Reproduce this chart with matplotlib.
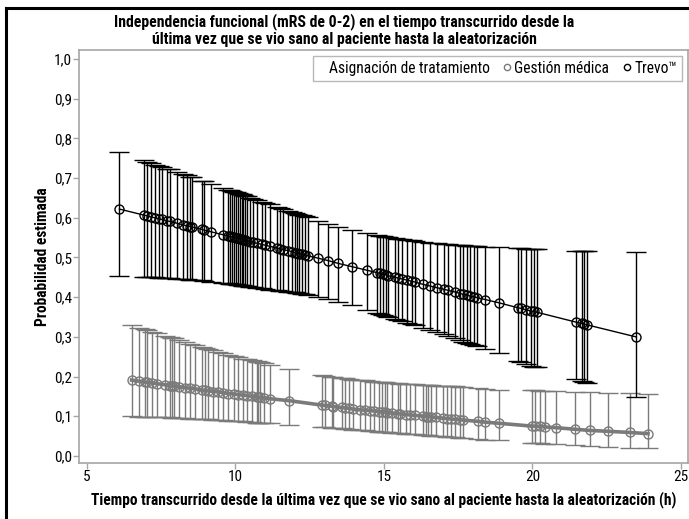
import numpy as np
import matplotlib.pyplot as plt
from matplotlib.lines import Line2D

plt.rcParams['font.family'] = ['Roboto Condensed', 'DejaVu Sans']

# Trevo arm: hours since last seen well, estimated probability and 95% CI
trevo_x = [6.10, 6.91, 7.04, 7.16, 7.31, 7.43, 7.52, 7.71, 7.80, 8.05, 8.25, 8.37, 8.48, 8.53,
           8.87, 8.95, 9.17, 9.60, 9.75, 9.82, 9.88, 9.94, 10.02, 10.08, 10.16, 10.22, 10.27,
           10.34, 10.41, 10.50, 10.61, 10.72, 10.89, 11.00, 11.17, 11.40, 11.51, 11.60, 11.79,
           11.90, 12.01, 12.09, 12.16, 12.24, 12.35, 12.46, 12.80, 13.13, 13.47, 13.92, 14.42,
           14.76, 14.87, 14.96, 15.08, 15.15, 15.38, 15.49, 15.60, 15.77, 15.94, 16.05, 16.33,
           16.56, 16.78, 17.01, 17.17, 17.40, 17.57, 17.68, 17.79, 17.90, 18.02, 18.13, 18.41,
           18.86, 19.53, 19.61, 19.79, 19.95, 20.04, 20.15, 21.47, 21.66, 21.74, 21.85, 23.48]
trevo_p = [0.622, 0.607, 0.605, 0.602, 0.600, 0.597, 0.596, 0.592, 0.591, 0.586, 0.582, 0.580,
           0.578, 0.577, 0.571, 0.569, 0.565, 0.557, 0.554, 0.553, 0.552, 0.551, 0.549, 0.548,
           0.547, 0.546, 0.545, 0.543, 0.542, 0.540, 0.538, 0.536, 0.533, 0.531, 0.528, 0.524,
           0.522, 0.520, 0.517, 0.515, 0.512, 0.511, 0.510, 0.508, 0.506, 0.504, 0.498, 0.492,
           0.485, 0.477, 0.468, 0.462, 0.460, 0.458, 0.456, 0.454, 0.450, 0.448, 0.446, 0.443,
           0.440, 0.438, 0.432, 0.428, 0.424, 0.420, 0.417, 0.413, 0.409, 0.407, 0.405, 0.403,
           0.401, 0.399, 0.394, 0.386, 0.373, 0.372, 0.368, 0.365, 0.364, 0.362, 0.337, 0.334,
           0.332, 0.330, 0.300]
trevo_hi = [0.766, 0.745, 0.741, 0.738, 0.734, 0.731, 0.729, 0.724, 0.722, 0.715, 0.710, 0.707,
            0.704, 0.703, 0.694, 0.692, 0.686, 0.675, 0.671, 0.669, 0.668, 0.666, 0.664, 0.662,
            0.660, 0.659, 0.657, 0.655, 0.654, 0.651, 0.648, 0.646, 0.641, 0.638, 0.634, 0.628,
            0.625, 0.623, 0.618, 0.615, 0.612, 0.610, 0.608, 0.606, 0.604, 0.601, 0.593, 0.585,
            0.578, 0.570, 0.562, 0.557, 0.555, 0.554, 0.552, 0.551, 0.549, 0.547, 0.546, 0.545,
            0.543, 0.542, 0.539, 0.537, 0.536, 0.534, 0.533, 0.532, 0.531, 0.531, 0.530, 0.530,
            0.529, 0.529, 0.527, 0.526, 0.523, 0.523, 0.522, 0.521, 0.521, 0.521, 0.517, 0.516,
            0.516, 0.516, 0.513]
trevo_lo = [0.453, 0.451, 0.451, 0.450, 0.450, 0.449, 0.449, 0.448, 0.448, 0.447, 0.446, 0.445,
            0.444, 0.444, 0.442, 0.441, 0.439, 0.436, 0.435, 0.434, 0.433, 0.433, 0.432, 0.431,
            0.430, 0.430, 0.429, 0.428, 0.427, 0.426, 0.425, 0.424, 0.422, 0.421, 0.419, 0.417,
            0.416, 0.415, 0.414, 0.413, 0.412, 0.411, 0.410, 0.408, 0.407, 0.405, 0.400, 0.395,
            0.388, 0.380, 0.368, 0.360, 0.357, 0.355, 0.352, 0.350, 0.345, 0.343, 0.340, 0.336,
            0.332, 0.330, 0.323, 0.318, 0.312, 0.307, 0.302, 0.296, 0.291, 0.288, 0.285, 0.283,
            0.280, 0.277, 0.269, 0.258, 0.240, 0.237, 0.232, 0.227, 0.225, 0.223, 0.193, 0.188,
            0.187, 0.184, 0.149]

# medical management arm
med_x = [6.51, 6.77, 6.96, 7.04, 7.19, 7.35, 7.64, 7.80, 7.86, 7.92, 8.12, 8.31, 8.48, 8.65,
         8.87, 8.98, 9.09, 9.26, 9.43, 9.60, 9.77, 9.94, 10.10, 10.27, 10.38, 10.55, 10.72,
         10.78, 10.83, 10.95, 11.17, 11.82, 12.91, 13.02, 13.25, 13.30, 13.58, 13.70, 13.81,
         13.95, 14.20, 14.37, 14.54, 14.67, 14.85, 14.93, 15.04, 15.12, 15.27, 15.49, 15.55,
         15.75, 15.88, 16.05, 16.33, 16.42, 16.50, 16.58, 16.76, 16.98, 17.12, 17.25, 17.40,
         17.57, 17.68, 18.18, 18.41, 18.89, 19.98, 20.09, 20.24, 20.43, 20.80, 21.44, 21.94,
         22.53, 23.27, 23.89]
med_p = [0.191, 0.188, 0.186, 0.185, 0.184, 0.182, 0.179, 0.177, 0.176, 0.176, 0.174, 0.172,
         0.170, 0.169, 0.166, 0.165, 0.164, 0.162, 0.161, 0.159, 0.157, 0.156, 0.154, 0.153,
         0.152, 0.150, 0.149, 0.148, 0.148, 0.146, 0.144, 0.139, 0.128, 0.127, 0.125, 0.124,
         0.122, 0.121, 0.120, 0.118, 0.116, 0.115, 0.114, 0.113, 0.111, 0.111, 0.110, 0.109,
         0.108, 0.106, 0.106, 0.104, 0.103, 0.102, 0.100, 0.099, 0.099, 0.098, 0.097, 0.095,
         0.094, 0.093, 0.092, 0.091, 0.090, 0.087, 0.085, 0.082, 0.075, 0.075, 0.074, 0.073,
         0.071, 0.067, 0.064, 0.062, 0.059, 0.056]
med_hi = [0.329, 0.323, 0.319, 0.317, 0.313, 0.310, 0.303, 0.299, 0.297, 0.296, 0.291, 0.287,
          0.283, 0.280, 0.275, 0.272, 0.270, 0.266, 0.262, 0.259, 0.255, 0.251, 0.248, 0.245,
          0.244, 0.241, 0.238, 0.237, 0.236, 0.234, 0.230, 0.220, 0.203, 0.202, 0.200, 0.199,
          0.196, 0.195, 0.194, 0.192, 0.191, 0.190, 0.188, 0.187, 0.186, 0.185, 0.185, 0.184,
          0.184, 0.183, 0.182, 0.181, 0.181, 0.180, 0.179, 0.179, 0.178, 0.178, 0.177, 0.177,
          0.176, 0.176, 0.175, 0.174, 0.174, 0.170, 0.169, 0.167, 0.165, 0.165, 0.164, 0.164,
          0.163, 0.161, 0.160, 0.159, 0.158, 0.157]
med_lo = [0.100, 0.099, 0.099, 0.099, 0.098, 0.098, 0.097, 0.097, 0.096, 0.096, 0.095, 0.095,
          0.094, 0.093, 0.093, 0.092, 0.092, 0.091, 0.090, 0.090, 0.089, 0.088, 0.088, 0.087,
          0.086, 0.085, 0.084, 0.084, 0.084, 0.083, 0.082, 0.079, 0.073, 0.072, 0.071, 0.070,
          0.069, 0.068, 0.067, 0.066, 0.065, 0.064, 0.063, 0.062, 0.061, 0.060, 0.060, 0.059,
          0.058, 0.057, 0.057, 0.056, 0.055, 0.054, 0.052, 0.052, 0.052, 0.051, 0.050, 0.049,
          0.048, 0.048, 0.047, 0.046, 0.045, 0.042, 0.041, 0.039, 0.033, 0.033, 0.032, 0.031,
          0.029, 0.027, 0.025, 0.023, 0.021, 0.019]

x_ticks = [5, 10, 15, 20, 25]
y_ticks = [0.0, 0.1, 0.2, 0.3, 0.4, 0.5, 0.6, 0.7, 0.8, 0.9, 1.0]

gray = '#7a7a7a'
axis_gray = '#a6a6a6'

fig = plt.figure(figsize=(6.89, 5.19), dpi=100)
ax = fig.add_axes([0.1147, 0.1079, 0.884, 0.7958])

mp = np.array(med_p)
ax.errorbar(med_x, mp, yerr=[mp - np.array(med_lo), np.array(med_hi) - mp],
            fmt='-o', color=gray, lw=2.6, elinewidth=1.0, capsize=7, capthick=1.0,
            ms=6.5, mfc='none', mec=gray, mew=1.0)

tp = np.array(trevo_p)
ax.errorbar(trevo_x, tp, yerr=[tp - np.array(trevo_lo), np.array(trevo_hi) - tp],
            fmt='-o', color='black', lw=1.0, elinewidth=1.0, capsize=7, capthick=1.0,
            ms=6.5, mfc='none', mec='black', mew=1.0)

ax.set_xlim(4.74, 25.24)
ax.set_ylim(-0.018, 1.023)
ax.set_xticks(x_ticks)
ax.set_xticklabels([str(t) for t in x_ticks], fontsize=11)
ax.set_yticks(y_ticks)
ax.set_yticklabels([f'{t:.1f}'.replace('.', ',') for t in y_ticks], fontsize=11)
ax.tick_params(length=4, width=1, color=axis_gray, pad=1)
for s in ax.spines.values():
    s.set_color(axis_gray)
    s.set_linewidth(1.2)

ax.set_xlabel('Tiempo transcurrido desde la última vez que se vio sano al paciente hasta la aleatorización (h)',
              fontsize=11.2, fontweight='bold', labelpad=5)
ax.set_ylabel('Probabilidad estimada', fontsize=11.2, fontweight='bold', labelpad=3)

fig.text(0.5, 0.975, 'Independencia funcional (mRS de 0-2) en el tiempo transcurrido desde la\n'
         'última vez que se vio sano al paciente hasta la aleatorización',
         ha='center', va='top', fontsize=11.3, fontweight='bold', linespacing=1.2)

# legend with its title written inline as the first entry
handles = [Line2D([], [], linestyle='none'),
           Line2D([], [], linestyle='none', marker='o', ms=4.5, mfc='none', mec=gray, mew=1.0),
           Line2D([], [], linestyle='none', marker='o', ms=4.5, mfc='none', mec='black', mew=1.0)]
labels = ['Asignación de tratamiento', 'Gestión médica', 'Trevo™']
leg = ax.legend(handles, labels, ncol=3, loc='upper right', fontsize=11.2, frameon=True,
                fancybox=False, edgecolor=axis_gray, borderaxespad=0.4, handlelength=0.5,
                handletextpad=0.2, columnspacing=0.9, borderpad=0.3)
leg.get_frame().set_linewidth(1.0)

# black frame around the figure (left and top edges)
fig.add_artist(Line2D([0.009, 0.009], [0.0, 0.985], color='black', lw=2.2))
fig.add_artist(Line2D([0.009, 1.0], [0.985, 0.985], color='black', lw=2.2))

fig.savefig('out.png', dpi=100)
